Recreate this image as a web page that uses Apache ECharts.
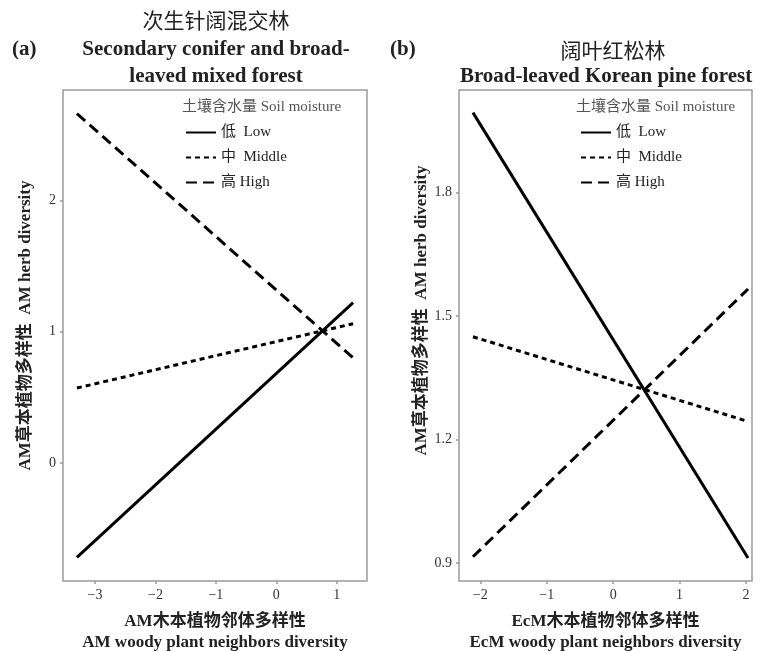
<!DOCTYPE html>
<html>
<head>
<meta charset="utf-8">
<script src="https://cdn.jsdelivr.net/npm/echarts@6/dist/echarts.min.js"></script>
<style>
html,body{margin:0;padding:0;background:#fff;}
#c{width:769px;height:651px;}
</style>
</head>
<body>
<div id="c"></div>
<script>
// Panel (a): Secondary conifer and broad-leaved mixed forest
const aX = [-3.3, 1.27];
const aLow = [-0.72, 1.22];
const aMid = [0.57, 1.06];
const aHigh = [2.66, 0.80];
const aXTicks = [-3, -2, -1, 0, 1];
const aYTicks = [0, 1, 2];

// Panel (b): Broad-leaved Korean pine forest
const bX = [-2.11, 2.03];
const bLow = [1.995, 0.912];
const bMid = [1.45, 1.244];
const bHigh = [0.915, 1.566];
const bXTicks = [-2, -1, 0, 1, 2];
const bYTicks = [0.9, 1.2, 1.5, 1.8];

const names = ['低  Low', '中  Middle', '高 High'];

const SERIF = "'Liberation Serif','Times New Roman','Noto Sans CJK SC',serif";
const CJK = "'Noto Sans CJK SC','Liberation Serif',serif";

function pairs(xs, ys){ return xs.map((x,i)=>[x, ys[i]]); }
function minus(v){ return String(v).replace('-', '\u2212'); }

const chart = echarts.init(document.getElementById('c'), null, {renderer:'canvas'});

const gridBox = {show:true, borderColor:'#9a9a9a', borderWidth:1.5, backgroundColor:'#fff', containLabel:false, outerBoundsMode:'none'};

function xAxis(idx, min, max, ticks, name){
  return {
    type:'value', gridIndex:idx, min:min, max:max, position:'bottom',
    axisLine:{show:false, onZero:false},
    axisTick:{show:true, customValues:ticks, length:3, lineStyle:{color:'#9a9a9a', width:1.5}},
    axisLabel:{customValues:ticks, formatter:minus, color:'#333', fontFamily:SERIF, fontSize:14, margin:7},
    splitLine:{show:false},
    name:name, nameLocation:'middle', nameGap:30,
    nameTextStyle:{fontFamily:SERIF, fontWeight:'bold', fontSize:17, color:'#222', lineHeight:21}
  };
}
function yAxis(idx, min, max, ticks, name, pad){
  return {
    type:'value', gridIndex:idx, min:min, max:max, position:'left',
    axisLine:{show:false, onZero:false},
    axisTick:{show:true, customValues:ticks, length:3, lineStyle:{color:'#9a9a9a', width:1.5}},
    axisLabel:{customValues:ticks, formatter:minus, color:'#333', fontFamily:SERIF, fontSize:14, margin:7},
    splitLine:{show:false},
    name:name, nameLocation:'middle', nameGap:29, nameRotate:90,
    nameTextStyle:{fontFamily:SERIF, fontWeight:'bold', fontSize:17, color:'#222', padding:[0,0,0,pad]}
  };
}

const styles = [
  {type:'solid', width:3},
  {type:[5,4], width:3},
  {type:[11,6], width:3}
];

function series(idx, xs, lows, mids, highs){
  return [lows, mids, highs].map((ys,k)=>({
    type:'line', name:names[k], xAxisIndex:idx, yAxisIndex:idx,
    data:pairs(xs, ys), symbol:'none', silent:true, animation:false,
    itemStyle:{color:'#000'},
    lineStyle:Object.assign({color:'#000'}, styles[k])
  }));
}

function legend(left){
  return {
    orient:'vertical', left:left, top:120, itemWidth:30, itemHeight:14, itemGap:10,
    data:names, selectedMode:false,
    itemStyle:{opacity:0},
    textStyle:{fontFamily:SERIF, fontSize:15, color:'#222'}
  };
}

const option = {
  animation:false,
  grid:[
    Object.assign({left:63, top:90, width:304, height:491}, gridBox),
    Object.assign({left:459, top:90, width:293, height:491}, gridBox)
  ],
  xAxis:[
    xAxis(0, -3.53, 1.5, aXTicks, 'AM木本植物邻体多样性\nAM woody plant neighbors diversity'),
    xAxis(1, -2.32, 2.09, bXTicks, 'EcM木本植物邻体多样性\nEcM woody plant neighbors diversity')
  ],
  yAxis:[
    yAxis(0, -0.9, 2.84, aYTicks, 'AM草本植物多样性  AM herb diversity', 20),
    yAxis(1, 0.856, 2.05, bYTicks, 'AM草本植物多样性  AM herb diversity', 50)
  ],
  legend:[legend(180), legend(575)],
  series:[].concat(series(0, aX, aLow, aMid, aHigh), series(1, bX, bLow, bMid, bHigh)),
  graphic:[
    {type:'text', x:216, y:20, style:{text:'次生针阔混交林', font:"21px "+CJK, fill:'#222', align:'center', verticalAlign:'middle'}},
    {type:'text', x:216, y:50, style:{text:'Secondary conifer and broad-', font:"bold 21px "+SERIF, fill:'#222', align:'center', verticalAlign:'middle'}},
    {type:'text', x:216, y:77, style:{text:'leaved mixed forest', font:"bold 21px "+SERIF, fill:'#222', align:'center', verticalAlign:'middle'}},
    {type:'text', x:12, y:50, style:{text:'(a)', font:"bold 21px "+SERIF, fill:'#222', align:'left', verticalAlign:'middle'}},
    {type:'text', x:390, y:50, style:{text:'(b)', font:"bold 21px "+SERIF, fill:'#222', align:'left', verticalAlign:'middle'}},
    {type:'text', x:613, y:50, style:{text:'阔叶红松林', font:"21px "+CJK, fill:'#222', align:'center', verticalAlign:'middle'}},
    {type:'text', x:606, y:77, style:{text:'Broad-leaved Korean pine forest', font:"bold 21px "+SERIF, fill:'#222', align:'center', verticalAlign:'middle'}},
    {type:'text', x:182, y:107, style:{text:'土壤含水量 Soil moisture', font:"15px "+SERIF, fill:'#555', align:'left', verticalAlign:'middle'}},
    {type:'text', x:576, y:107, style:{text:'土壤含水量 Soil moisture', font:"15px "+SERIF, fill:'#555', align:'left', verticalAlign:'middle'}}
  ]
};
chart.setOption(option);
</script>
</body>
</html>
